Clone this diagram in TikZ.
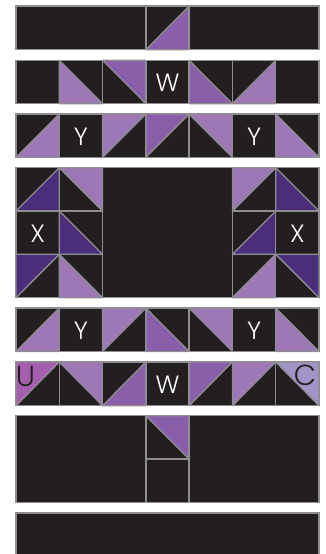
\documentclass[tikz,border=0pt]{standalone}
\usepackage{fontspec}
\setmainfont{Poppins}[UprightFont=* Light]
\definecolor{quiltblack}{HTML}{231F20}
\definecolor{seam}{HTML}{8E8E90}
\definecolor{plight}{HTML}{9E78B6}
\definecolor{pmid}{HTML}{8A5FA9}
\definecolor{pdark}{HTML}{4A2E7C}
\definecolor{pmag}{HTML}{A65FAE}
\definecolor{pblue}{HTML}{A194C6}
\tikzset{
  patch/.style={fill=quiltblack,draw=seam,line width=1.3pt,line join=miter},
  tri/.style={draw=seam,line width=1.3pt,line join=round},
  lab/.style={text=white,font=\fontsize{25}{25}\selectfont,inner sep=0pt,anchor=center},
  darklab/.style={text=quiltblack,font=\fontsize{29}{29}\selectfont,inner sep=0pt,anchor=center}
}
% triangle kinds, by the corner they fill
\def\kUL{(TL)--(TR)--(BL)--cycle}
\def\kUR{(TL)--(TR)--(BR)--cycle}
\def\kLL{(TL)--(BR)--(BL)--cycle}
\def\kLR{(BL)--(TR)--(BR)--cycle}
% \slab{first col}{last col+1}{top}{bottom}
\newcommand{\slab}[4]{%
  \path[patch] ({16+43.286*(#1)},#3) rectangle ({16+43.286*(#2)},#4);}
% \hst{col}{top}{bottom}{kind}{colour}
\newcommand{\hst}[5]{%
  \slab{#1}{#1+1}{#2}{#3}%
  \coordinate (TL) at ({16+43.286*#1},#2);
  \coordinate (TR) at ({16+43.286*(#1+1)},#2);
  \coordinate (BL) at ({16+43.286*#1},#3);
  \coordinate (BR) at ({16+43.286*(#1+1)},#3);
  \draw[tri,fill=#5] #4;}
% \ltr{col}{top}{bottom}{name}{text}
\newcommand{\ltr}[5]{%
  \slab{#1}{#1+1}{#2}{#3}%
  \node[lab] (#4) at ({16+43.286*(#1+.5)},{(#2+#3)/2+1.2}) {#5};}
\begin{document}
\begin{tikzpicture}[x=1pt,y=-1pt]
\useasboundingbox[fill=white] (0,0) rectangle (326,554);
% row 1
\slab{0}{3}{6}{49.7}
\hst{3}{6}{49.7}{\kLR}{pmid}
\slab{4}{7}{6}{49.7}
% row 2
\slab{0}{1}{60.3}{103.7}
\hst{1}{60.3}{103.7}{\kLL}{plight}
\hst{2}{60.3}{103.7}{\kUR}{pmid}
\ltr{3}{60.3}{103.7}{w1}{W}
\hst{4}{60.3}{103.7}{\kLL}{pmid}
\hst{5}{60.3}{103.7}{\kLR}{plight}
\slab{6}{7}{60.3}{103.7}
% row 3
\hst{0}{114}{157.3}{\kLR}{plight}
\ltr{1}{114}{157.3}{y1}{Y}
\hst{2}{114}{157.3}{\kUL}{plight}
\hst{3}{114}{157.3}{\kUL}{pmid}
\hst{4}{114}{157.3}{\kUR}{plight}
\ltr{5}{114}{157.3}{y2}{Y}
\hst{6}{114}{157.3}{\kLL}{plight}
% centre block
\slab{2}{5}{167.7}{297.7}
\hst{0}{167.7}{211}{\kLR}{pdark}
\hst{1}{167.7}{211}{\kUR}{plight}
\hst{5}{167.7}{211}{\kUL}{plight}
\hst{6}{167.7}{211}{\kLL}{pdark}
\ltr{0}{211}{254.3}{x1}{X}
\hst{1}{211}{254.3}{\kLL}{pdark}
\hst{5}{211}{254.3}{\kLR}{pdark}
\ltr{6}{211}{254.3}{x2}{X}
\hst{0}{254.3}{297.7}{\kUL}{pdark}
\hst{1}{254.3}{297.7}{\kLL}{plight}
\hst{5}{254.3}{297.7}{\kLR}{plight}
\hst{6}{254.3}{297.7}{\kUR}{pdark}
% row 5
\hst{0}{308}{351.5}{\kLR}{plight}
\ltr{1}{308}{351.5}{y3}{Y}
\hst{2}{308}{351.5}{\kUL}{plight}
\hst{3}{308}{351.5}{\kLL}{pmid}
\hst{4}{308}{351.5}{\kUR}{plight}
\ltr{5}{308}{351.5}{y4}{Y}
\hst{6}{308}{351.5}{\kLL}{plight}
% row 6
\hst{0}{362}{405.7}{\kUL}{pmag}
\hst{1}{362}{405.7}{\kUR}{plight}
\hst{2}{362}{405.7}{\kLR}{pmid}
\ltr{3}{362}{405.7}{w2}{W}
\hst{4}{362}{405.7}{\kUL}{pmid}
\hst{5}{362}{405.7}{\kUL}{plight}
\hst{6}{362}{405.7}{\kUR}{pblue}
\node[darklab] (u) at (25.5,376) {U};
\node[darklab] (c) at (305,375.5) {C};
% row 7
\slab{0}{3}{415.7}{502.3}
\hst{3}{415.7}{459}{\kUR}{pmid}
\slab{3}{4}{459}{502.3}
\slab{4}{7}{415.7}{502.3}
% row 8
\slab{0}{7}{513}{560}
\end{tikzpicture}
\end{document}
